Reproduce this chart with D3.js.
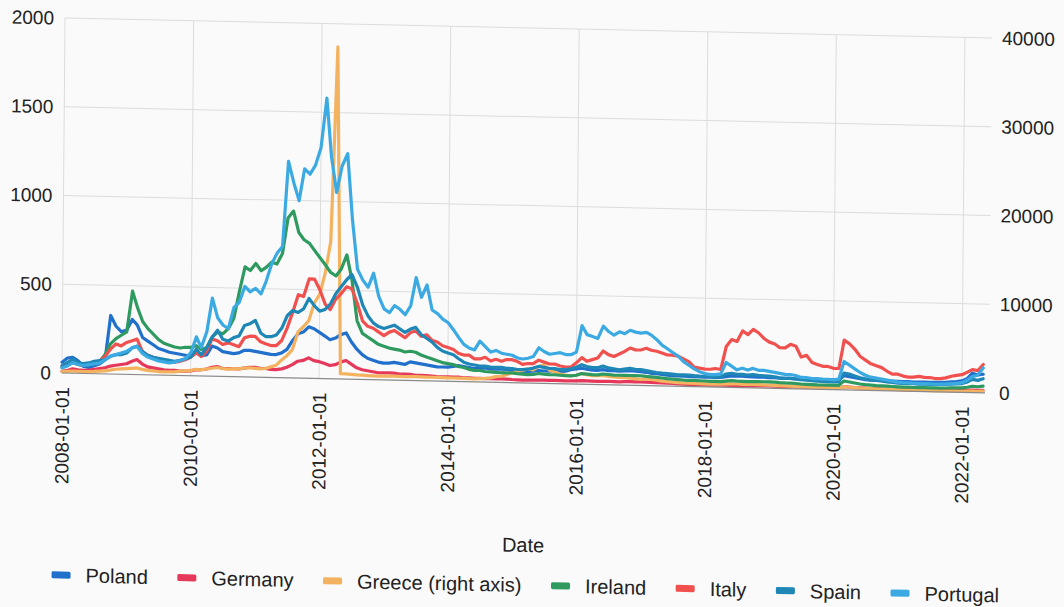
<!DOCTYPE html>
<html>
<head>
<meta charset="utf-8">
<script src="https://cdn.jsdelivr.net/npm/d3@7/dist/d3.min.js"></script>
<style>
  html, body { margin: 0; padding: 0; background: #fafafa; }
  svg { display: block; font-family: "Liberation Sans", Arial, Helvetica, sans-serif; }
</style>
</head>
<body>
<svg id="chart" width="1064" height="607"></svg>
<script>
// Monthly sovereign CDS spreads (bp), first value = 2008-01, last = 2022-05
const firstMonth = new Date(2008, 0, 1);
const lastMonth = new Date(2022, 4, 1);

const leftTicks = [0, 500, 1000, 1500, 2000];
const rightTicks = [0, 10000, 20000, 30000, 40000];
const xTickLabels = ["2008-01-01", "2010-01-01", "2012-01-01", "2014-01-01",
                     "2016-01-01", "2018-01-01", "2020-01-01", "2022-01-01"];

const seriesNames = ["Poland", "Germany", "Greece (right axis)", "Ireland", "Italy", "Spain", "Portugal"];
const seriesColors = ["#2170cc", "#e5385a", "#f3b25f", "#2f9a5f", "#f0514f", "#1f87b6", "#3caae2"];
const seriesAxis = ["left", "left", "right", "left", "left", "left", "left"];

const poland = [
  60, 85, 90, 70, 40, 35, 45, 55, 80, 330, 270, 240,
  250, 310, 280, 210, 190, 170, 150, 140, 130, 125, 120, 115,
  110, 130, 115, 120, 170, 160, 140, 135, 130, 135, 150, 150,
  145, 140, 135, 130, 130, 140, 160, 210, 250, 260, 290, 280,
  260, 240, 220, 230, 250, 260, 210, 170, 140, 120, 110, 100,
  95, 95, 100, 95, 90, 105, 100, 95, 90, 85, 80, 80,
  80, 85, 90, 85, 80, 75, 75, 80, 75, 75, 75, 75,
  70, 68, 65, 65, 68, 72, 70, 70, 72, 70, 72, 80,
  85, 90, 85, 80, 80, 85, 80, 80, 78, 80, 82, 80,
  78, 75, 70, 68, 65, 62, 60, 58, 58, 57, 56, 55,
  55, 55, 55, 56, 60, 65, 65, 65, 63, 62, 62, 62,
  60, 60, 58, 58, 58, 57, 56, 55, 55, 55, 55, 55,
  55, 55, 80, 75, 70, 65, 60, 58, 58, 56, 55, 55,
  55, 54, 54, 53, 53, 53, 53, 53, 54, 55, 58, 60,
  65, 80, 110, 100, 105
];

const germany = [
  10, 15, 25, 20, 18, 20, 25, 30, 35, 45, 50, 55,
  60, 75, 85, 60, 45, 40, 35, 30, 28, 28, 25, 25,
  28, 35, 35, 40, 50, 55, 45, 45, 45, 45, 50, 55,
  55, 50, 50, 45, 45, 50, 60, 75, 95, 100, 115, 100,
  95, 85, 75, 80, 95, 105, 85, 65, 55, 50, 45, 40,
  40, 40, 40, 35, 35, 35, 30, 30, 30, 28, 25, 25,
  25, 25, 25, 22, 22, 20, 20, 20, 20, 20, 20, 20,
  18, 17, 16, 17, 18, 18, 19, 18, 18, 18, 17, 17,
  18, 20, 20, 19, 18, 19, 20, 19, 18, 20, 21, 20,
  20, 20, 19, 18, 17, 16, 15, 14, 13, 12, 12, 11,
  11, 11, 11, 11, 12, 12, 12, 12, 12, 12, 12, 13,
  13, 12, 12, 11, 11, 11, 11, 10, 10, 10, 10, 10,
  10, 10, 18, 16, 14, 13, 12, 11, 11, 10, 10, 10,
  10, 9, 9, 9, 9, 9, 9, 9, 9, 9, 10, 10,
  10, 12, 14, 13, 14
];

const greece = [
  150, 200, 250, 220, 200, 220, 250, 300, 350, 450, 550, 600,
  650, 700, 750, 600, 500, 450, 400, 380, 380, 400, 500, 550,
  600, 750, 700, 800, 900, 1000, 900, 850, 900, 900, 1000, 1050,
  1000, 950, 1000, 1200, 1400, 2000, 2500, 3200, 5200, 5800, 6500, 8500,
  9500, 12000, 15500, 37400, 600, 600, 550, 500, 480, 450, 430, 420,
  450, 450, 460, 440, 420, 440, 460, 440, 430, 420, 410, 400,
  400, 390, 380, 370, 360, 350, 380, 420, 500, 650, 700, 900,
  1100, 1300, 1400, 1600, 1500, 1900, 2100, 1500, 1300, 1100, 1000, 950,
  1000, 1200, 1100, 1000, 1000, 1050, 950, 900, 850, 850, 800, 750,
  700, 750, 700, 650, 550, 500, 450, 420, 400, 380, 360, 350,
  340, 330, 330, 340, 380, 420, 400, 380, 390, 400, 390, 380,
  360, 340, 320, 300, 290, 260, 230, 220, 210, 200, 190, 180,
  170, 170, 350, 320, 280, 240, 220, 200, 190, 180, 170, 160,
  150, 145, 140, 135, 130, 125, 120, 120, 120, 120, 125, 130,
  130, 150, 180, 170, 190
];

const ireland = [
  30, 45, 60, 50, 45, 50, 60, 70, 110, 170, 200, 220,
  240, 470, 380, 300, 260, 230, 200, 180, 170, 160, 155, 160,
  160, 170, 150, 160, 220, 250, 240, 270, 330, 480, 620, 600,
  640, 600, 620, 650, 640, 700, 900, 940, 820, 780, 760, 720,
  680, 640, 600, 580, 620, 700, 560, 330, 260, 240, 220, 200,
  190, 180, 175, 170, 160, 165, 160, 145, 135, 125, 115, 105,
  100, 95, 85, 80, 70, 65, 65, 60, 58, 56, 55, 55,
  55, 52, 50, 48, 50, 55, 52, 50, 50, 48, 46, 46,
  50, 60, 58, 55, 55, 60, 58, 55, 55, 55, 55, 55,
  55, 52, 50, 48, 45, 42, 40, 38, 36, 35, 35, 34,
  33, 32, 32, 32, 35, 38, 36, 36, 35, 35, 36, 36,
  36, 35, 33, 32, 32, 30, 28, 27, 26, 25, 25, 25,
  25, 25, 50, 45, 40, 35, 32, 30, 28, 27, 26, 25,
  24, 23, 23, 22, 22, 22, 22, 22, 22, 23, 24, 25,
  26, 30, 36, 34, 38
];

const italy = [
  40, 55, 70, 50, 45, 55, 65, 70, 100, 140, 170, 160,
  180, 190, 200, 130, 110, 100, 90, 85, 80, 75, 80, 90,
  105, 130, 110, 140, 210, 200, 180, 190, 180, 170, 220, 230,
  230, 200, 190, 180, 180, 210, 280, 370, 470, 460, 560, 560,
  500, 420, 390, 450, 480, 520, 510, 430, 330, 300, 290, 270,
  250, 270, 280, 260, 240, 270, 280, 250, 260, 230, 220, 200,
  190, 180, 160, 150, 150, 130, 130, 140, 120, 130, 120, 130,
  130, 120, 105, 110, 110, 130, 120, 110, 110, 100, 95, 95,
  120, 150, 130, 140, 150, 190, 170, 160, 175, 190, 210, 200,
  200, 210, 200, 195, 185, 175, 175, 170, 155, 140, 110, 105,
  100, 100, 105, 100, 230, 270, 260, 320, 300, 330, 310, 280,
  260, 250, 230, 230, 250, 240, 180, 190, 150, 140, 130, 130,
  120, 120, 280, 260, 230, 190, 170, 150, 140, 130, 110, 95,
  95, 85, 80, 80, 85, 80, 80, 75, 75, 80, 90, 95,
  100, 115, 130, 125, 160
];

const spain = [
  40, 60, 80, 60, 55, 60, 70, 75, 80, 100, 110, 110,
  120, 150, 160, 130, 110, 100, 95, 90, 85, 80, 85, 95,
  105, 150, 120, 160, 220, 260, 210, 200, 220, 230, 290, 300,
  320, 250, 230, 230, 240, 280, 350, 380, 370, 390, 450, 410,
  380, 390, 420, 480, 520, 560, 590, 520, 420, 360, 320, 300,
  290, 300, 310, 290, 270, 290, 300, 260, 240, 220, 190, 170,
  160, 150, 130, 110, 100, 95, 90, 90, 85, 85, 85, 80,
  80, 75, 75, 78, 85, 95, 90, 85, 85, 80, 80, 85,
  95, 110, 100, 95, 95, 105, 95, 90, 85, 90, 95, 90,
  90, 85, 80, 75, 72, 70, 68, 65, 65, 65, 62, 60,
  60, 58, 57, 58, 75, 80, 75, 75, 72, 75, 72, 70,
  68, 65, 60, 58, 58, 55, 52, 50, 48, 46, 45, 45,
  45, 45, 95, 90, 80, 70, 65, 60, 58, 55, 50, 48,
  45, 44, 44, 43, 42, 42, 42, 42, 43, 44, 46, 48,
  50, 60, 75, 70, 80
];

const portugal = [
  30, 40, 60, 50, 45, 50, 55, 60, 80, 100, 110, 120,
  130, 150, 160, 120, 100, 90, 80, 75, 70, 75, 85, 95,
  130, 220, 160, 250, 440, 330, 290, 270, 390, 420, 510, 480,
  500, 470, 540, 640, 700, 740, 1220, 1100, 1000, 1180, 1150, 1200,
  1300, 1580, 1250, 1050, 1200, 1270, 900, 620, 560, 520, 600, 470,
  400, 380, 420, 400, 370, 420, 580, 470, 540, 400, 380, 350,
  330, 290, 250, 210, 190, 180, 230, 200, 170, 180, 165, 160,
  155, 140, 135, 140, 150, 200, 180, 165, 170, 175, 165, 165,
  180, 330, 280, 270, 260, 330, 300, 280, 300, 290, 310, 300,
  295, 300, 285, 260, 230, 210, 190, 170, 140, 120, 100, 85,
  75, 70, 70, 75, 140, 120, 100, 110, 100, 110, 100, 100,
  95, 90, 85, 80, 80, 75, 65, 65, 60, 60, 58, 58,
  55, 60, 160, 140, 120, 100, 85, 75, 70, 65, 60, 55,
  50, 48, 47, 46, 45, 45, 45, 44, 44, 45, 48, 50,
  55, 70, 90, 100, 140
];

const seriesValues = [poland, germany, greece, ireland, italy, spain, portugal];

// ---- geometry ----
const plot = { left: 62, right: 983, top: 18, bottom: 373 };
const gridRight = 989;

const months = d3.timeMonth.range(firstMonth, d3.timeDay.offset(lastMonth, 1));

const x = d3.scaleTime().domain([firstMonth, lastMonth]).range([plot.left, plot.right]);
const yLeft = d3.scaleLinear().domain([0, 2000]).range([plot.bottom, plot.top]);
const yRight = d3.scaleLinear().domain([0, 40000]).range([plot.bottom, plot.top]);

const parseDay = d3.timeParse("%Y-%m-%d");
const xTicks = xTickLabels.map(parseDay);
const plainNumber = d3.format("d");

const svg = d3.select("#chart");
svg.append("rect").attr("width", 1064).attr("height", 607).attr("fill", "#fafafa");

// the printed page sits slightly askew
const root = svg.append("g")
  .attr("transform", "matrix(1,0.0216,-0.0085,1,3.17,-1.34)");

// grid
const grid = root.append("g").attr("stroke", "#dcdcdc").attr("stroke-width", 1);
grid.selectAll("line.h").data(leftTicks.slice(1)).join("line")
  .attr("x1", plot.left).attr("x2", gridRight)
  .attr("y1", d => yLeft(d)).attr("y2", d => yLeft(d));
grid.selectAll("line.v").data(xTicks).join("line")
  .attr("x1", d => x(d)).attr("x2", d => x(d))
  .attr("y1", plot.top).attr("y2", plot.bottom);

// left axis
const leftAxis = root.append("g")
  .attr("transform", `translate(${plot.left},0)`)
  .call(d3.axisLeft(yLeft).tickValues(leftTicks).tickFormat(plainNumber).tickSize(0).tickPadding(11));
// right axis (Greece)
const rightAxis = root.append("g")
  .attr("transform", `translate(${gridRight},0)`)
  .call(d3.axisRight(yRight).tickValues(rightTicks).tickFormat(plainNumber).tickSize(0).tickPadding(10));
// bottom axis
const bottomAxis = root.append("g")
  .attr("transform", `translate(0,${plot.bottom})`)
  .call(d3.axisBottom(x).tickValues(xTicks).tickSize(0).tickFormat(d3.timeFormat("%Y-%m-%d")));
bottomAxis.selectAll("text")
  .attr("transform", "rotate(-90)")
  .attr("text-anchor", "end")
  .attr("x", -14).attr("y", 0).attr("dy", "0.35em");

[leftAxis, rightAxis, bottomAxis].forEach(a => {
  a.select(".domain").remove();
  a.attr("font-family", null).attr("font-size", null);
  a.selectAll("text").attr("fill", "#222").style("font-size", "19px");
});

// series lines
const lineFor = scale => d3.line()
  .x(d => x(d.date))
  .y(d => scale(d.value));

const linesG = root.append("g").attr("fill", "none")
  .attr("stroke-width", 3.2).attr("stroke-linejoin", "round").attr("stroke-linecap", "round");

seriesNames.forEach((name, i) => {
  const pts = months.map((m, k) => ({ date: m, value: seriesValues[i][k] }));
  const scale = seriesAxis[i] === "right" ? yRight : yLeft;
  linesG.append("path")
    .datum(pts)
    .attr("stroke", seriesColors[i])
    .attr("d", lineFor(scale));
});

// baseline
root.append("line")
  .attr("x1", plot.left).attr("x2", plot.right + 2)
  .attr("y1", plot.bottom).attr("y2", plot.bottom)
  .attr("stroke", "#8a8a8a").attr("stroke-width", 1.2);

// x axis title
root.append("text")
  .attr("x", (plot.left + plot.right) / 2 + 2).attr("y", 542)
  .attr("text-anchor", "middle").attr("fill", "#222")
  .style("font-size", "20px").text("Date");

// legend
const legend = root.append("g").attr("transform", "translate(0,575)");
const swatchW = 19, swatchH = 7, swatchGap = 15, itemGap = 29.5;
const items = legend.selectAll("g.item").data(seriesNames).join("g").attr("class", "item");
items.append("rect")
  .attr("width", swatchW).attr("height", swatchH)
  .attr("y", -swatchH / 2).attr("rx", 1.5)
  .attr("fill", (d, i) => seriesColors[i]);
items.append("text")
  .attr("x", swatchW + swatchGap).attr("dy", "0.35em")
  .attr("fill", "#222").style("font-size", "20px")
  .text(d => d);
let widths = [];
items.each(function () {
  widths.push(swatchW + swatchGap + this.querySelector("text").getComputedTextLength());
});
const total = d3.sum(widths) + itemGap * (widths.length - 1);
let cursor = 527 - total / 2;
items.attr("transform", (d, i) => {
  const t = `translate(${cursor},0)`;
  cursor += widths[i] + itemGap;
  return t;
});
</script>
</body>
</html>
